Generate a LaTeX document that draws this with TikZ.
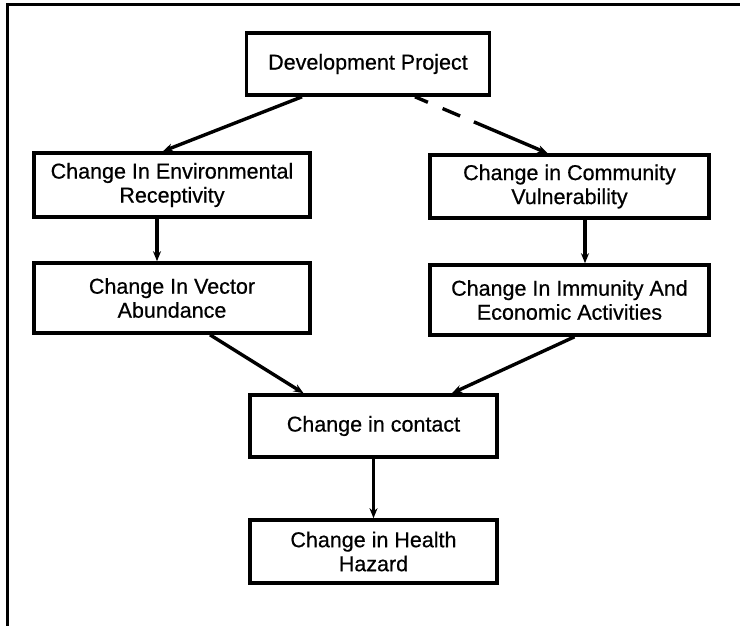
\documentclass[tikz,border=0pt]{standalone}
\usepackage{fontspec}
\setmainfont{Liberation Sans}
\newfontfamily\boxfont{Liberation Sans}[FakeBold=0.6]
\usetikzlibrary{arrows.meta,calc}
\begin{document}
\begin{tikzpicture}[x=1pt,y=-1pt,
  box/.style={draw,line width=3.6pt,minimum width=#1,align=center,inner sep=0pt,font=\boxfont\fontsize{21.5}{24}\selectfont},
  arr/.style={line width=3.4pt,-{Stealth[length=10pt,width=8pt]}}]
\useasboundingbox (0,0) rectangle (740,626);
\draw[line width=3pt] (740,5) -- (7,5) -- (7,626);
\node[box=243pt,minimum height=62pt] (dev) at (368,64) {Development Project};
\node[box=276pt,minimum height=64pt] (env) at (172,185) {Change In Environmental\\Receptivity};
\node[box=279pt,minimum height=63pt] (com) at (569.5,186.5) {Change in Community\\Vulnerability};
\node[box=276pt,minimum height=70pt] (vec) at (172,298) {Change In Vector\\Abundance};
\node[box=279pt,minimum height=70pt] (imm) at (569.5,300) {Change In Immunity And\\Economic Activities};
\node[box=247pt,minimum height=62pt] (con) at (373.5,426) {Change in contact};
\node[box=247pt,minimum height=63pt] (hea) at (373.5,551.5) {Change in Health\\Hazard};
\draw[arr] ([xshift=-66pt]dev.south) -- ([xshift=-9pt]env.north);
\draw[arr,dash pattern=on 14pt off 16pt on 19pt off 15pt on 300pt] ([xshift=47pt]dev.south) -- ([xshift=-22pt]com.north);
\draw[arr] ([xshift=-15pt]env.south) -- ([xshift=-15pt]vec.north);
\draw[arr] ([xshift=15.5pt]com.south) -- ([xshift=15.5pt]imm.north);
\draw[arr] ([xshift=38pt]vec.south) -- ([xshift=-70pt]con.north);
\draw[arr] ([xshift=5pt]imm.south) -- ([xshift=78.5pt]con.north);
\draw[arr] (con.south) -- (hea.north);
\end{tikzpicture}
\end{document}
